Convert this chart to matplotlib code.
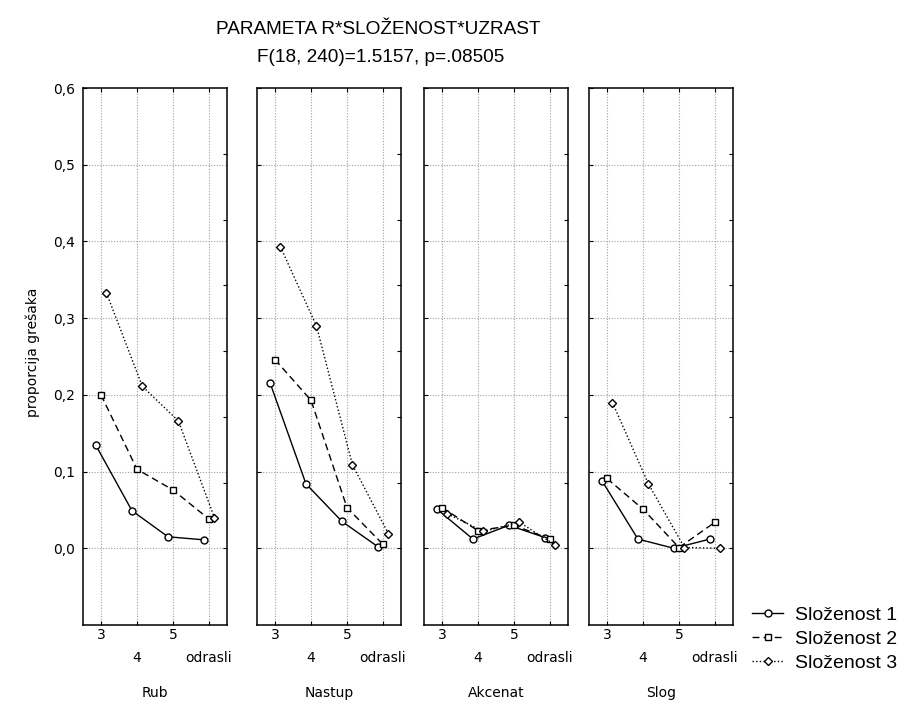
import numpy as np
import matplotlib
matplotlib.use('Agg')
import matplotlib.pyplot as plt
from matplotlib.lines import Line2D

uzrast = ['3', '4', '5', 'odrasli']
parametri = ['Rub', 'Nastup', 'Akcenat', 'Slog']
slozenost = ['Složenost 1', 'Složenost 2', 'Složenost 3']

# proporcija grešaka po uzrastu, redom složenost 1, 2, 3
rub = [[0.134, 0.049, 0.015, 0.011],
       [0.200, 0.103, 0.076, 0.038],
       [0.333, 0.211, 0.166, 0.040]]
nastup = [[0.216, 0.084, 0.035, 0.002],
          [0.246, 0.193, 0.053, 0.005],
          [0.393, 0.290, 0.109, 0.019]]
akcenat = [[0.051, 0.012, 0.030, 0.014],
           [0.053, 0.023, 0.030, 0.012],
           [0.045, 0.022, 0.034, 0.004]]
slog = [[0.088, 0.012, 0.000, 0.012],
        [0.091, 0.051, 0.001, 0.034],
        [0.190, 0.084, 0.001, 0.000]]

podaci = [rub, nastup, akcenat, slog]

stilovi = [dict(ls='-', marker='o', ms=5),
           dict(ls=(0, (5, 3)), marker='s', ms=5),
           dict(ls=(0, (1, 1.6)), marker='D', ms=3.8)]
pomak = [-0.14, 0.0, 0.15]

W, H = 904, 704
fig = plt.figure(figsize=(W / 100, H / 100), dpi=100)
fig.patch.set_facecolor('white')

levo = [83, 257, 424, 589]
sirina = 144
gore, dole = 88, 625

x = np.arange(1, len(uzrast) + 1)
for i, (naziv, serije) in enumerate(zip(parametri, podaci)):
    ax = fig.add_axes([levo[i] / W, 1 - dole / H, sirina / W, (dole - gore) / H])
    ax.set_xlim(0.5, 4.5)
    ax.set_ylim(-0.1, 0.6)

    for k, vrednosti in enumerate(serije):
        ax.plot(x + pomak[k], vrednosti, color='black', lw=1.0,
                mfc='white', mec='black', mew=1.0, zorder=3, **stilovi[k])

    # mreža
    for xv in x:
        ax.axvline(xv, color='#a0a0a0', lw=0.8, ls=(0, (1, 1.5)), zorder=1)
    for yv in np.arange(0.0, 0.55, 0.1):
        ax.axhline(yv, color='#a0a0a0', lw=0.8, ls=(0, (1, 1.5)), zorder=1)

    for s in ax.spines.values():
        s.set_linewidth(1.1)

    # uzrast u dva reda
    ax.set_xticks([1, 3], [uzrast[0], uzrast[2]])
    ax.set_xticks([2, 4], [uzrast[1], uzrast[3]], minor=True)
    ax.tick_params(axis='x', which='both', direction='in', length=3, top=True,
                   labelsize=10, width=0.8)
    ax.tick_params(axis='x', which='major', pad=2.5)
    ax.tick_params(axis='x', which='minor', pad=19)

    ax.set_yticks(np.arange(0.0, 0.65, 0.1))
    ax.tick_params(axis='y', direction='in', length=3, width=0.8, labelsize=10, pad=6)
    if i == 0:
        ax.set_yticklabels([f'{v:.1f}'.replace('.', ',') for v in np.arange(0.0, 0.65, 0.1)])
    else:
        ax.set_yticklabels([])

    desna = ax.twinx()
    desna.set_ylim(-0.1, 0.6)
    desna.set_yticks(np.arange(7) * 0.6 / 7)
    desna.set_yticklabels([])
    desna.tick_params(axis='y', direction='in', length=3, width=0.8)
    for s in desna.spines.values():
        s.set_visible(False)

    ax.text(0.5, -68 / (dole - gore), naziv, transform=ax.transAxes,
            ha='center', va='center', fontsize=10)

fig.text(378 / W, 1 - 29 / H, 'PARAMETA R*SLOŽENOST*UZRAST', ha='center', va='center',
         fontsize=13.7, family='Liberation Sans')
fig.text(381 / W, 1 - 58 / H, 'F(18, 240)=1.5157, p=.08505', ha='center', va='center',
         fontsize=13.7, family='Liberation Sans')
fig.text(33 / W, 1 - 352 / H, 'proporcija grešaka', rotation=90, ha='center', va='center',
         fontsize=10)

rucke = [Line2D([0], [0], color='black', lw=1.0, mfc='white', mec='black', mew=1.0, **st)
         for st in stilovi]
fig.legend(rucke, slozenost, loc='upper left', bbox_to_anchor=(752 / W, 1 - 606 / H),
           frameon=False, prop={'family': 'Liberation Sans', 'size': 14},
           handlelength=1.6, handletextpad=0.6, labelspacing=0.33, borderpad=0,
           borderaxespad=0)

fig.savefig('out.png', dpi=100)
